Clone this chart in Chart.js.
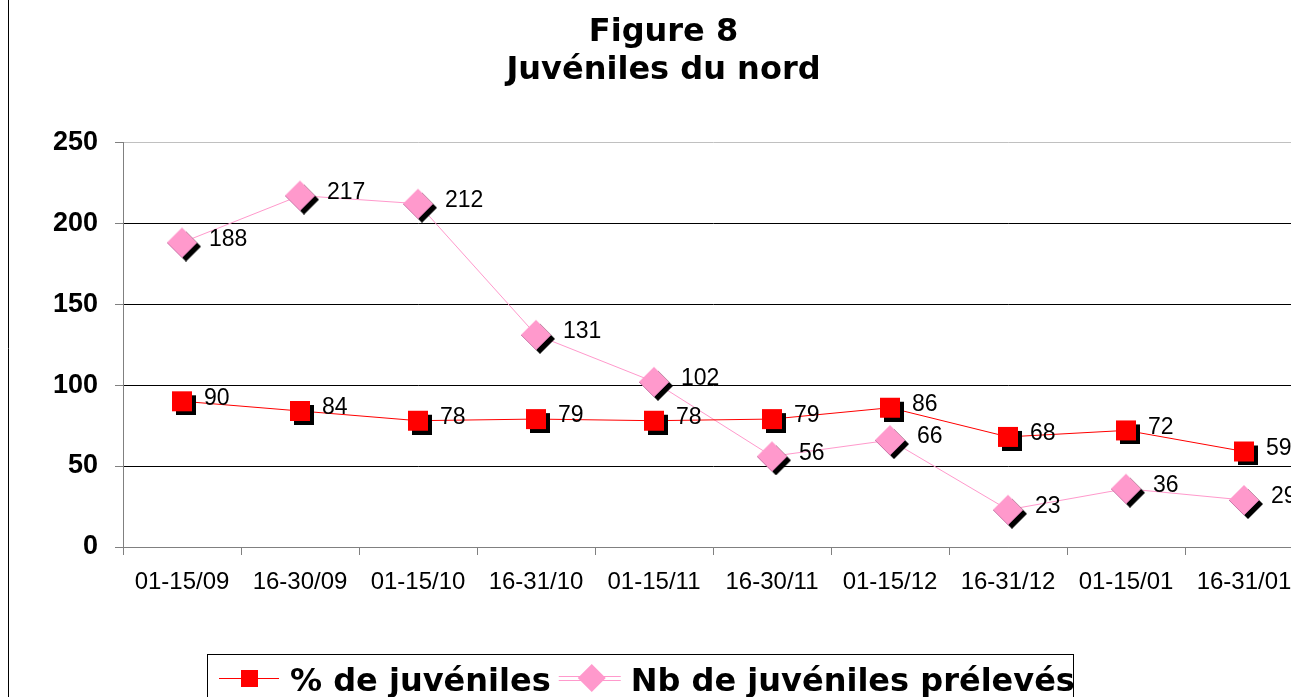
<!DOCTYPE html>
<html><head><meta charset="utf-8">
<script src="https://cdn.jsdelivr.net/npm/chart.js@4"></script>
<style>html,body{margin:0;padding:0;overflow:hidden;background:#fff;width:1291px;height:697px}canvas{display:block}</style>
</head><body><canvas id="c" width="1326" height="697"></canvas>
<script>
const categories = ['01-15/09','16-30/09','01-15/10','16-31/10','01-15/11','16-30/11','01-15/12','16-31/12','01-15/01','16-31/01'];
const pctJuveniles = [90,84,78,79,78,79,86,68,72,59];
const nbJuveniles = [188,217,212,131,102,56,66,23,36,29];
const seriesNames = ['% de juvéniles','Nb de juvéniles prélevés'];
const titleLines = ['Figure 8','Juvéniles du nord'];
const yMin = 0, yMax = 250, yStep = 50;

const RED = '#ff0000', PINK = '#ff99cc';

function squareMarker(size, off, color, shadow){
  const s = size + 2*off;
  const c = document.createElement('canvas'); c.width = s; c.height = s;
  const g = c.getContext('2d');
  if (shadow) { g.fillStyle = '#000'; g.fillRect(2*off, 2*off, size, size); }
  g.fillStyle = color; g.fillRect(off, off, size, size);
  return c;
}
function diamondPath(g, cx, cy, h){
  g.beginPath(); g.moveTo(cx, cy-h); g.lineTo(cx+h, cy); g.lineTo(cx, cy+h); g.lineTo(cx-h, cy); g.closePath();
}
function diamondMarker(h, off, color, shadow){
  const s = 2*(h+off);
  const c = document.createElement('canvas'); c.width = s; c.height = s;
  const g = c.getContext('2d');
  if (shadow) { g.fillStyle = '#000'; diamondPath(g, s/2+off, s/2+off, h); g.fill(); }
  g.fillStyle = color; diamondPath(g, s/2, s/2, h); g.fill();
  if (shadow) {
    g.strokeStyle = '#cc77aa'; g.lineWidth = 1;
    g.beginPath(); g.moveTo(s/2+h, s/2); g.lineTo(s/2, s/2+h); g.lineTo(s/2-h, s/2); g.stroke();
  }
  return c;
}
const redMarker = squareMarker(20, 4, RED, true);
const pinkMarker = diamondMarker(15, 4, PINK, true);

const decor = {
  id: 'decor',
  beforeDraw(chart){
    const ctx = chart.ctx; ctx.save();
    ctx.fillStyle = '#fff'; ctx.fillRect(0,0,chart.width,chart.height);
    ctx.strokeStyle = '#000'; ctx.lineWidth = 1;
    ctx.beginPath(); ctx.moveTo(8.5, 0); ctx.lineTo(8.5, chart.height); ctx.stroke();
    ctx.restore();
  },
  afterDatasetsDraw(chart){
    const ctx = chart.ctx; ctx.save();
    ctx.font = '23px "Liberation Sans", Arial, sans-serif';
    ctx.fillStyle = '#000'; ctx.textBaseline = 'middle'; ctx.textAlign = 'left';
    chart.data.datasets.forEach((ds, i) => {
      const meta = chart.getDatasetMeta(i);
      const dx = i === 0 ? 22 : 27;
      meta.data.forEach((pt, j) => ctx.fillText(String(ds.data[j]), pt.x + dx, pt.y - 3));
    });
    ctx.restore();
  },
  afterDraw(chart){
    const ctx = chart.ctx; ctx.save();
    ctx.font = 'bold 32px "DejaVu Sans", Verdana, sans-serif';
    ctx.textBaseline = 'middle'; ctx.textAlign = 'left'; ctx.fillStyle = '#000';
    const ly = 678, ty = 683;
    ctx.strokeStyle = RED; ctx.lineWidth = 1;
    ctx.beginPath(); ctx.moveTo(219, ly+0.5); ctx.lineTo(279, ly+0.5); ctx.stroke();
    ctx.fillStyle = RED; ctx.fillRect(241, ly-8, 17, 17);
    ctx.fillStyle = '#000';
    const t1 = chart.data.datasets[0].label;
    ctx.fillText(t1, 290, ty);
    const x2 = 290 + ctx.measureText(t1).width + 8;
    ctx.strokeStyle = PINK;
    ctx.beginPath(); ctx.moveTo(x2, ly-1.5); ctx.lineTo(x2+62, ly-1.5); ctx.moveTo(x2, ly+2.5); ctx.lineTo(x2+62, ly+2.5); ctx.stroke();
    ctx.fillStyle = PINK; diamondPath(ctx, x2+33, ly, 14); ctx.fill();
    ctx.fillStyle = '#000';
    const t2 = chart.data.datasets[1].label;
    const tx2 = x2 + 72;
    ctx.fillText(t2, tx2, ty);
    const right = tx2 + ctx.measureText(t2).width;
    ctx.strokeStyle = '#000'; ctx.lineWidth = 1;
    ctx.strokeRect(207.5, 654.5, Math.round(right) - 209, 100);
    ctx.restore();
  }
};

new Chart(document.getElementById('c'), {
  type: 'line',
  data: {
    labels: categories,
    datasets: [
      { label: seriesNames[0], data: pctJuveniles, borderColor: RED, borderWidth: 1, pointStyle: redMarker, pointRadius: 10, tension: 0, fill: false },
      { label: seriesNames[1], data: nbJuveniles, borderColor: PINK, borderWidth: 1, pointStyle: pinkMarker, pointRadius: 10, tension: 0, fill: false }
    ]
  },
  options: {
    responsive: false, animation: false, devicePixelRatio: 1,
    layout: { padding: { left: 24, right: 23, top: 0, bottom: 0 } },
    plugins: {
      legend: { display: false },
      tooltip: { enabled: false },
      title: {
        display: true, text: titleLines, color: '#000',
        font: { family: '"DejaVu Sans", Verdana, sans-serif', weight: 'bold', size: 32, lineHeight: 1.19 },
        padding: { top: 14, bottom: 52 }
      }
    },
    scales: {
      x: {
        offset: true,
        afterFit(s){ s.height = 150; },
        grid: { offset: true, drawOnChartArea: false, drawTicks: true, tickLength: 8, color: '#808080' },
        border: { display: true, color: '#808080', width: 1 },
        ticks: { color: '#000', font: { family: '"Liberation Sans", Arial, sans-serif', size: 24 }, padding: 13, maxRotation: 0, autoSkip: false }
      },
      y: {
        min: yMin, max: yMax,
        afterFit(s){ s.width = 99; },
        grid: { color: c => c.tick.value === yMax ? '#c0c0c0' : (c.tick.value === yMin ? '#808080' : '#000'), tickColor: '#808080', tickLength: 8 },
        border: { display: true, color: '#808080', width: 1 },
        ticks: { stepSize: yStep, color: '#000', padding: 17, font: { family: '"Liberation Sans", Arial, sans-serif', weight: 'bold', size: 27 } }
      }
    }
  },
  plugins: [decor]
});
</script>
</body></html>
